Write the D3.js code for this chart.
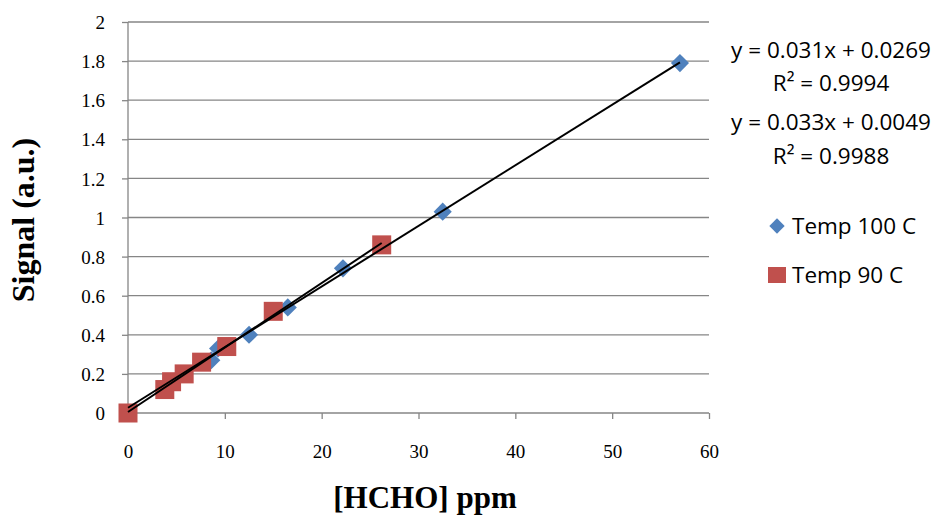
<!DOCTYPE html>
<html>
<head>
<meta charset="utf-8">
<script src="https://cdn.jsdelivr.net/npm/d3@7/dist/d3.min.js"></script>
<style>
  html, body { margin: 0; padding: 0; background: #fff; }
  svg { display: block; }
</style>
</head>
<body>
<svg id="chart" width="938" height="515"></svg>
<script>
// Calibration data: HCHO concentration (ppm) vs. signal
const seriesNames = ["Temp 100 C", "Temp 90 C"];
const temp100X = [0, 8.6, 9.3, 12.5, 16.5, 22.2, 32.5, 57];
const temp100Y = [0, 0.27, 0.33, 0.40, 0.54, 0.74, 1.03, 1.79];
const temp90X = [0, 3.8, 4.5, 5.8, 7.6, 10.2, 15, 26.2];
const temp90Y = [0, 0.12, 0.16, 0.20, 0.26, 0.34, 0.52, 0.86];

// Linear fits (slope, intercept, R²)
const fitSlopes = [0.031, 0.033];
const fitIntercepts = [0.0269, 0.0049];
const fitR2 = ["0.9994", "0.9988"];

const xTicks = [0, 10, 20, 30, 40, 50, 60];
const yTicks = [0, 0.2, 0.4, 0.6, 0.8, 1, 1.2, 1.4, 1.6, 1.8, 2];

const colors = ["#4F81BD", "#C0504D"];

const svg = d3.select("#chart");
const plot = { left: 128, right: 709, top: 22, bottom: 413 };

const x = d3.scaleLinear().domain([0, 60]).range([plot.left, plot.right]);
const y = d3.scaleLinear().domain([0, 2]).range([plot.bottom, plot.top]);

const gridColor = "#868686";
const serif = "'Liberation Serif', 'Times New Roman', serif";
const sans = "'Open Sans', 'Noto Sans', sans-serif";

// horizontal gridlines
svg.append("g")
  .selectAll("line")
  .data(yTicks.filter(d => d > 0))
  .join("line")
  .attr("x1", plot.left).attr("x2", plot.right)
  .attr("y1", d => y(d)).attr("y2", d => y(d))
  .attr("stroke", gridColor).attr("stroke-width", 1.3);

// y axis
const yAxis = svg.append("g")
  .attr("transform", `translate(${plot.left},0)`)
  .call(d3.axisLeft(y).tickValues(yTicks).tickSize(6).tickPadding(17)
    .tickFormat(d => d3.format("~g")(d)));
// x axis
const xAxis = svg.append("g")
  .attr("transform", `translate(0,${plot.bottom})`)
  .call(d3.axisBottom(x).tickValues(xTicks).tickSize(6).tickPadding(26)
    .tickFormat(d3.format("d")));

[yAxis, xAxis].forEach(g => {
  g.select(".domain").attr("stroke", gridColor).attr("stroke-width", 1.3);
  g.selectAll(".tick line").attr("stroke", gridColor).attr("stroke-width", 1.3);
  g.selectAll(".tick text")
    .attr("fill", "#000")
    .style("font-family", serif)
    .style("font-size", "19px");
});
xAxis.select(".domain").attr("d", `M${plot.left},0H${plot.right}`);
yAxis.select(".domain").attr("d", `M0,${plot.bottom}V${plot.top}`);
yAxis.selectAll(".tick text").attr("dy", "0.35em");

// markers
const pts100 = temp100X.map((v, i) => ({ x: v, y: temp100Y[i] }));
const pts90 = temp90X.map((v, i) => ({ x: v, y: temp90Y[i] }));

const diamond = d3.symbol().type(d3.symbolDiamond2).size(210);
svg.append("g")
  .selectAll("path")
  .data(pts100)
  .join("path")
  .attr("d", diamond)
  .attr("transform", d => `translate(${x(d.x)},${y(d.y)})`)
  .attr("fill", colors[0]);

svg.append("g")
  .selectAll("rect")
  .data(pts90)
  .join("rect")
  .attr("x", d => x(d.x) - 9.5)
  .attr("y", d => y(d.y) - 9.5)
  .attr("width", 19).attr("height", 19)
  .attr("fill", colors[1]);

// trendlines
const ranges = [[0, d3.max(temp100X)], [0, d3.max(temp90X)]];
ranges.forEach((r, i) => {
  svg.append("line")
    .attr("x1", x(r[0])).attr("y1", y(fitSlopes[i] * r[0] + fitIntercepts[i]))
    .attr("x2", x(r[1])).attr("y2", y(fitSlopes[i] * r[1] + fitIntercepts[i]))
    .attr("stroke", "#000").attr("stroke-width", 2);
});

// equation labels
const eqLines = [
  { t: `y = ${fitSlopes[0]}x + ${fitIntercepts[0]}`, cy: 50 },
  { t: `R² = ${fitR2[0]}`, cy: 83 },
  { t: `y = ${fitSlopes[1]}x + ${fitIntercepts[1]}`, cy: 122 },
  { t: `R² = ${fitR2[1]}`, cy: 156 }
];
svg.append("g")
  .selectAll("text")
  .data(eqLines)
  .join("text")
  .attr("x", 831).attr("y", d => d.cy)
  .attr("dy", "0.35em")
  .attr("text-anchor", "middle")
  .style("font-family", sans)
  .style("font-size", "22.5px")
  .attr("fill", "#000")
  .text(d => d.t);

// legend
const legend = svg.append("g");
const legendY = [226, 275];
legend.append("path")
  .attr("d", d3.symbol().type(d3.symbolDiamond2).size(150))
  .attr("transform", `translate(777,${legendY[0]})`)
  .attr("fill", colors[0]);
legend.append("rect")
  .attr("x", 768).attr("y", legendY[1] - 8)
  .attr("width", 18).attr("height", 16)
  .attr("fill", colors[1]);
legend.selectAll("text")
  .data(seriesNames)
  .join("text")
  .attr("x", 792).attr("y", (d, i) => legendY[i])
  .attr("dy", "0.35em")
  .style("font-family", sans)
  .style("font-size", "22.5px")
  .attr("fill", "#000")
  .text(d => d);

// axis titles
svg.append("text")
  .attr("x", 425).attr("y", 508)
  .attr("text-anchor", "middle")
  .style("font-family", serif)
  .style("font-weight", "bold")
  .style("font-size", "31px")
  .text("[HCHO] ppm");

svg.append("text")
  .attr("transform", "translate(34,220) rotate(-90)")
  .attr("text-anchor", "middle")
  .style("font-family", serif)
  .style("font-weight", "bold")
  .style("font-size", "32px")
  .text("Signal (a.u.)");
</script>
</body>
</html>
